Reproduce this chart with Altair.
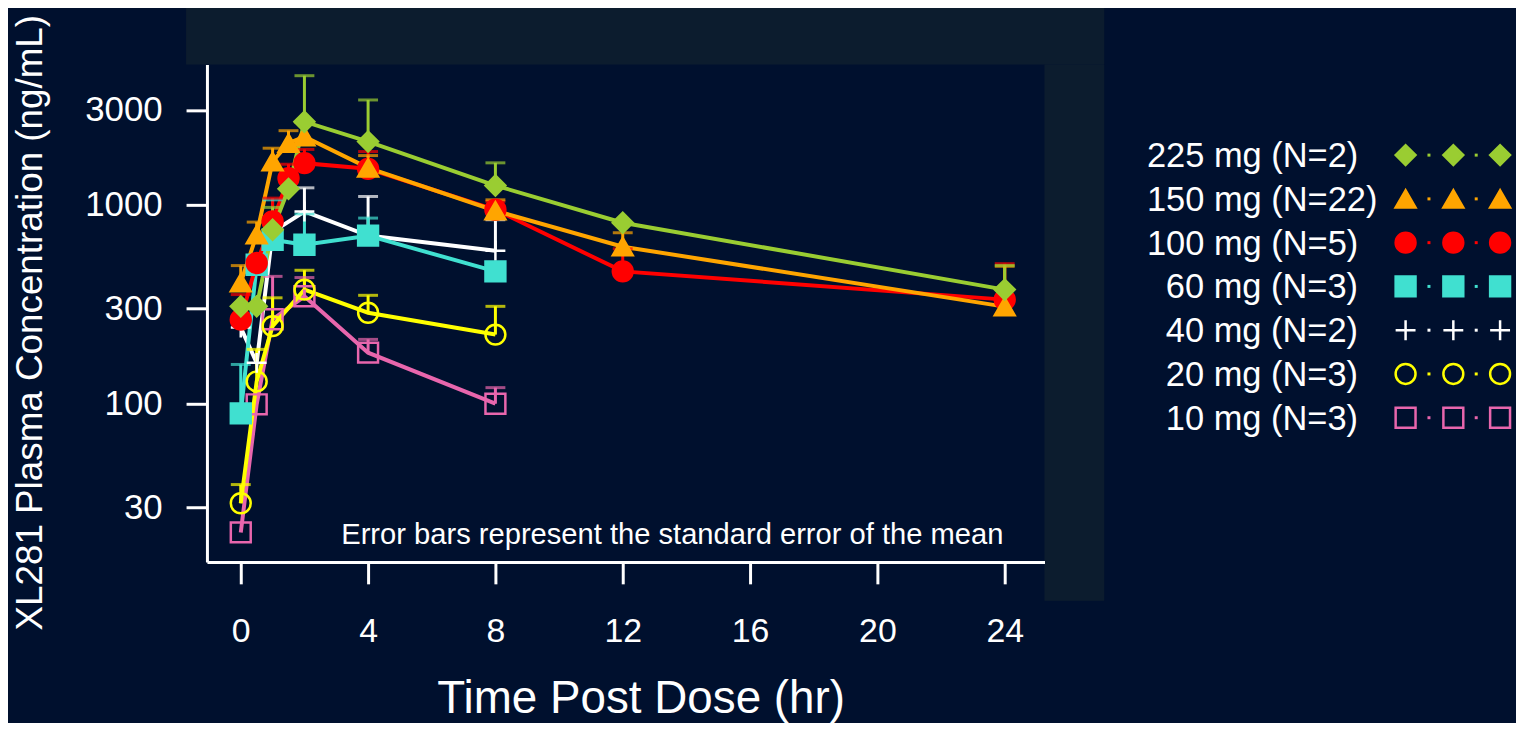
import altair as alt
import pandas as pd

# ---- data ----
series = ["225 mg (N=2)", "150 mg (N=22)", "100 mg (N=5)", "60 mg (N=3)",
          "40 mg (N=2)", "20 mg (N=3)", "10 mg (N=3)"]
colors = ["#9acd32", "#ffa500", "#ff0000", "#40e0d0", "#ffffff", "#ffff00", "#e866ad"]
shapes = ["diamond", "triangle-up", "circle", "square", "M-1,0H1M0,-1V1", "circle", "square"]
fills = ["#9acd32", "#ffa500", "#ff0000", "#40e0d0", "transparent", "transparent", "transparent"]

t_long = [0, 0.5, 1, 1.5, 2, 4, 8, 12, 24]
t_short = [0, 0.5, 1, 2, 4, 8]

conc_225 = [308, 308, 749, 1203, 2621, 2080, 1250, 812, 374]
upper_225 = [None, None, 970, None, 4466, 3371, 1626, None, 495]
conc_150 = [405, 707, 1651, 2042, 2203, 1534, 933, 615, 307]
upper_150 = [494, 818, 1927, 2361, 2600, 1769, 1059, 723, 490]
conc_100 = [264, 509, 824, 1362, 1620, 1517, 944, 462, 333]
upper_100 = [353, None, 1080, 1600, 1900, 1853, 1040, 600, 505]
conc_60 = [89, 499, 667, 629, 699, 462]
upper_60 = [157, None, 1059, 900, 857, None]
conc_40 = [241, 160, 730, 925, 700, 587]
upper_40 = [None, None, None, 1217, 1101, 841]
conc_20 = [31.4, 129, 245, 374, 286, 222]
upper_20 = [39, 187, 340, 468, 350, 308]
conc_10 = [22.4, 98.9, 265, 346, 180, 99.6]
upper_10 = [None, None, 436, 430, 210, 120]

x_ticks = [0, 4, 8, 12, 16, 20, 24]
y_ticks = [30, 100, 300, 1000, 3000]
note = "Error bars represent the standard error of the mean"

BG = "#00102e"
FRAME = "#0c1c2e"
FONT = "Liberation Sans"

# ---- build tables (lowest dose first so higher doses draw on top) ----
groups = [
    (series[6], t_short, conc_10, upper_10),
    (series[5], t_short, conc_20, upper_20),
    (series[4], t_short, conc_40, upper_40),
    (series[3], t_short, conc_60, upper_60),
    (series[2], t_long, conc_100, upper_100),
    (series[1], t_long, conc_150, upper_150),
    (series[0], t_long, conc_225, upper_225),
]
rows = []
for name, ts, cs, us in groups:
    for t, c, u in zip(ts, cs, us):
        rows.append({"series": name, "time": t, "conc": c, "upper": u})
df = pd.DataFrame(rows)
err_df = df.dropna(subset=["upper"])

leg_df = pd.DataFrame({"series": series,
                       "wide": [len(s.split(" ")[0]) == 3 for s in series]})

color_scale = alt.Scale(domain=series, range=colors)
shape_scale = alt.Scale(domain=series, range=shapes)
fill_scale = alt.Scale(domain=series, range=fills)

x_enc = alt.X("time:Q",
              scale=alt.Scale(domain=[-1.0625, 25.25], nice=False, zero=False),
              axis=alt.Axis(values=x_ticks, title="Time Post Dose (hr)",
                            labelFontSize=34, labelPadding=31, tickSize=22,
                            titleFontSize=46, titleFontWeight="normal",
                            titleX=436, titleY=151, titleBaseline="alphabetic",
                            titleAlign="center", titleAnchor="middle", zindex=2))
y_enc = alt.Y("conc:Q",
              scale=alt.Scale(type="log", domain=[15.9, 5080], nice=False),
              axis=alt.Axis(values=y_ticks, format="d",
                            title="XL281 Plasma Concentration (ng/mL)",
                            labelFontSize=35, labelPadding=24, tickSize=21,
                            titleFontSize=37, titleFontWeight="normal",
                            titleX=-166, titleY=259, titleBaseline="alphabetic",
                            titleAlign="center", titleAnchor="middle", zindex=2))

# lighter L-shaped frame behind the panel (top band + right band)
one = pd.DataFrame({"k": [0]})
frame_top = alt.Chart(one).mark_rect(color=FRAME).encode(
    x=alt.value(-21), x2=alt.value(902), y=alt.value(-60), y2=alt.value(0))
frame_right = alt.Chart(one).mark_rect(color=FRAME).encode(
    x=alt.value(842), x2=alt.value(902), y=alt.value(0), y2=alt.value(539))

lines = alt.Chart(df).mark_line(strokeWidth=4).encode(
    x=x_enc, y=y_enc,
    color=alt.Color("series:N", scale=color_scale, legend=None))

rules = alt.Chart(err_df).mark_rule(strokeWidth=3).encode(
    x="time:Q", y="conc:Q", y2="upper:Q",
    color=alt.Color("series:N", scale=color_scale, legend=None))

caps = alt.Chart(err_df).mark_tick(orient="horizontal", size=20, thickness=3).encode(
    x="time:Q", y="upper:Q",
    color=alt.Color("series:N", scale=color_scale, legend=None))

points = alt.Chart(df).mark_point(size=400, strokeWidth=2.5, opacity=1,
                                  fillOpacity=1).encode(
    x="time:Q", y="conc:Q",
    stroke=alt.Stroke("series:N", scale=color_scale, legend=None),
    fill=alt.Fill("series:N", scale=fill_scale, legend=None),
    shape=alt.Shape("series:N", scale=shape_scale, legend=None))

note_txt = alt.Chart(one).mark_text(text=note, align="left", baseline="alphabetic",
                                    fontSize=29.3, color="white", font=FONT).encode(
    x=alt.value(135), y=alt.value(482))

main = alt.layer(frame_top, frame_right, lines, rules, caps, points, note_txt)

# ---- hand-built legend (labels left of the markers) ----
leg_y = alt.Y("series:N", scale=alt.Scale(domain=series, range=[91, 355], padding=0),
              axis=None)
leg_text_wide = alt.Chart(leg_df).transform_filter("datum.wide").mark_text(
    align="left", baseline="alphabetic", dy=12, fontSize=34.6, color="white", font=FONT
).encode(x=alt.value(945), y=leg_y, text="series:N")
leg_text_narrow = alt.Chart(leg_df).transform_filter("!datum.wide").mark_text(
    align="left", baseline="alphabetic", dy=12, fontSize=34.6, color="white", font=FONT
).encode(x=alt.value(964), y=leg_y, text="series:N")

leg_layers = [leg_text_wide, leg_text_narrow]
for px in [1205, 1253, 1300]:
    leg_layers.append(
        alt.Chart(leg_df).mark_point(size=400, strokeWidth=2.5, opacity=1,
                                     fillOpacity=1).encode(
            x=alt.value(px), y=leg_y,
            stroke=alt.Stroke("series:N", scale=color_scale, legend=None),
            fill=alt.Fill("series:N", scale=fill_scale, legend=None),
            shape=alt.Shape("series:N", scale=shape_scale, legend=None)))
for px in [1228.5, 1276]:
    leg_layers.append(
        alt.Chart(leg_df).mark_square(size=9, opacity=1).encode(
            x=alt.value(px), y=leg_y,
            color=alt.Color("series:N", scale=color_scale, legend=None)))
legend = alt.layer(*leg_layers)

chart = alt.layer(main, legend).resolve_scale(y="independent").properties(
    width=842, height=500,
    autosize=alt.AutoSizeParams(type="none"),
    padding={"left": 200, "top": 55, "right": 474, "bottom": 160},
    background=BG,
).configure(font=FONT).configure_view(strokeWidth=0).configure_axis(
    grid=False, domainColor="white", domainWidth=3, tickColor="white", tickWidth=3,
    labelColor="white", titleColor="white", labelFont=FONT, titleFont=FONT)

chart.save("out.html", embed_options={"renderer": "svg", "actions": False})
